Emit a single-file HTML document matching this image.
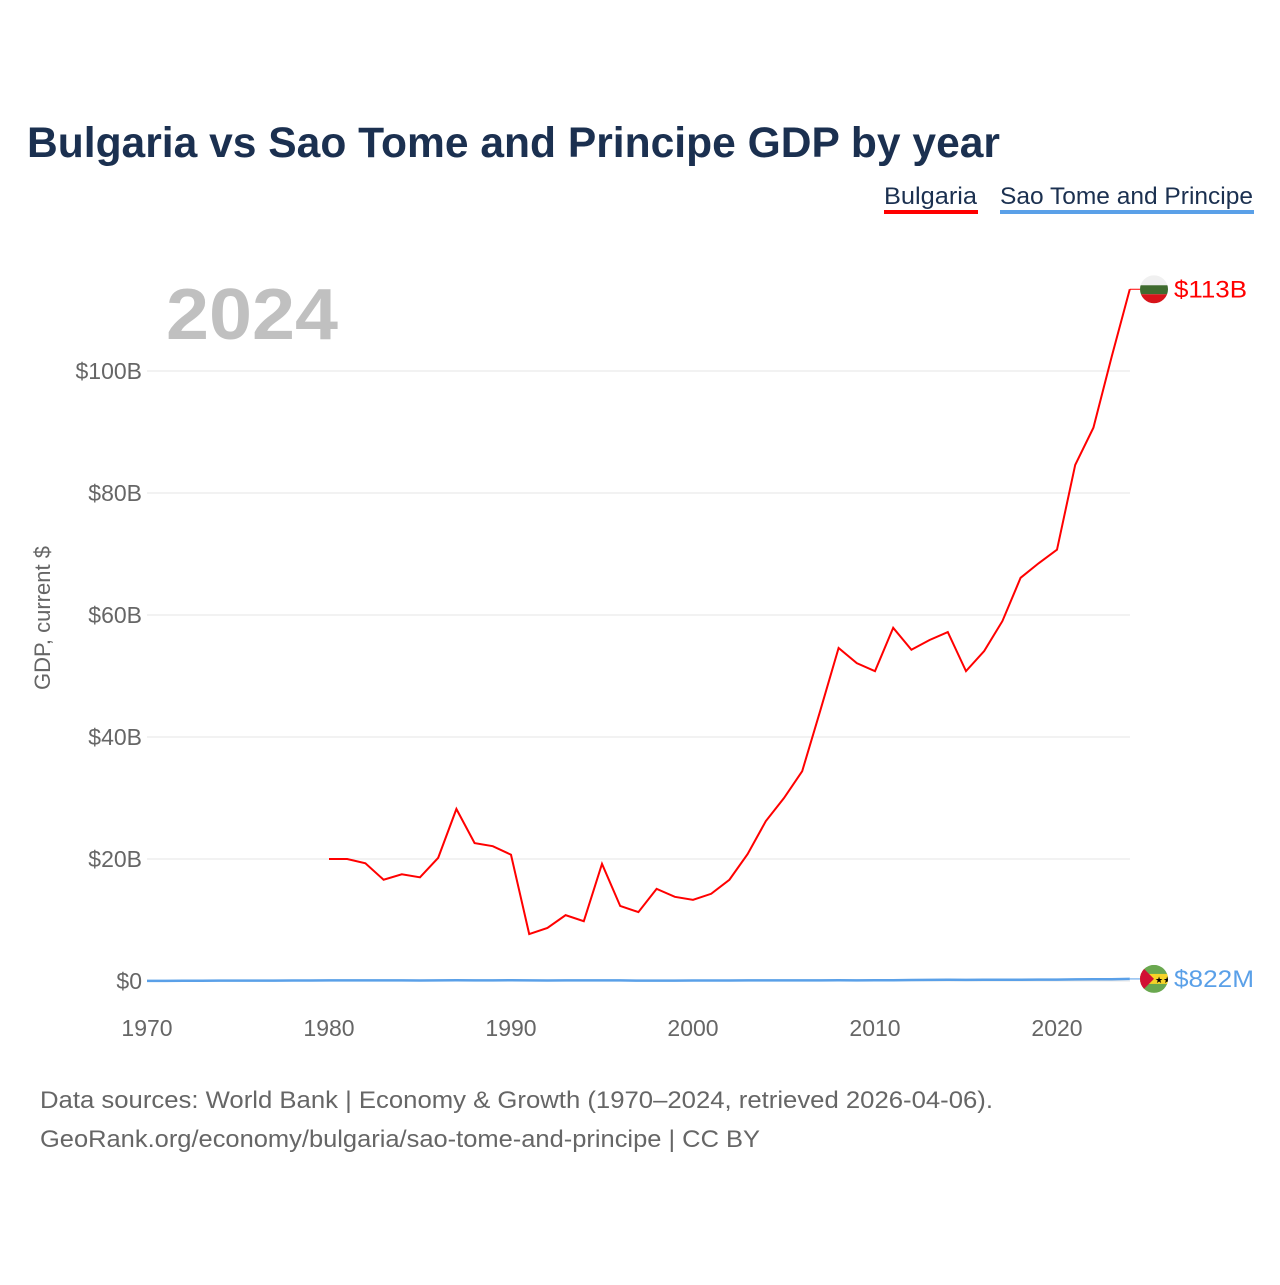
<!DOCTYPE html>
<html><head><meta charset="utf-8"><style>
body{margin:0;background:#fff;font-family:"Liberation Sans",sans-serif}
#wrap{position:relative;width:1280px;height:1280px}
</style></head><body>
<div id="wrap">
<svg id="chart" width="1280" height="1280"></svg>
</div>
<script>
const years=[];for(let y=1970;y<=2024;y++)years.push(y);
const bgYears=[1980,1981,1982,1983,1984,1985,1986,1987,1988,1989,1990,1991,1992,1993,1994,1995,1996,1997,1998,1999,2000,2001,2002,2003,2004,2005,2006,2007,2008,2009,2010,2011,2012,2013,2014,2015,2016,2017,2018,2019,2020,2021,2022,2023,2024];
const bgValues=[20.0,20.0,19.3,16.6,17.5,17.0,20.2,28.2,22.6,22.1,20.7,7.7,8.7,10.8,9.8,19.2,12.3,11.3,15.1,13.8,13.3,14.3,16.6,20.8,26.2,30.0,34.4,44.4,54.6,52.1,50.8,57.9,54.3,55.9,57.2,50.8,54.1,59.0,66.1,68.5,70.7,84.6,90.7,102.3,113.4];
const stpValues=[0.03,0.03,0.04,0.05,0.06,0.07,0.06,0.07,0.08,0.09,0.1,0.11,0.1,0.1,0.1,0.09,0.1,0.12,0.11,0.1,0.12,0.1,0.09,0.1,0.11,0.1,0.1,0.06,0.07,0.07,0.08,0.08,0.09,0.1,0.1,0.1,0.1,0.11,0.12,0.11,0.12,0.13,0.16,0.19,0.2,0.19,0.2,0.2,0.21,0.23,0.23,0.27,0.29,0.29,0.34,0.31,0.35,0.38,0.41,0.43,0.47,0.53,0.55,0.60,0.822].slice(0,55);
const yTicks=[0,20,40,60,80,100];
const yTickLabels=["$0","$20B","$40B","$60B","$80B","$100B"];
const xTicks=[1970,1980,1990,2000,2010,2020];

const NS="http://www.w3.org/2000/svg";
const svg=document.getElementById('chart');
const X=y=>147+(y-1970)*18.2;
const Y=v=>981-v*6.1;
function el(t,a,txt){const e=document.createElementNS(NS,t);for(const k in a)e.setAttribute(k,a[k]);if(txt!=null)e.textContent=txt;svg.appendChild(e);return e;}

let e;
e=el('text',{x:27,y:157,'font-size':43,'font-weight':'bold',fill:'#1b3050',textLength:973,lengthAdjust:'spacingAndGlyphs'},'Bulgaria vs Sao Tome and Principe GDP by year');

e=el('text',{x:884,y:204,'font-size':24,fill:'#1b3050',textLength:93,lengthAdjust:'spacingAndGlyphs'},'Bulgaria');

el('rect',{x:884,y:210,width:94,height:4,fill:'#ff0000'});
e=el('text',{x:1000,y:204,'font-size':24,fill:'#1b3050',textLength:253,lengthAdjust:'spacingAndGlyphs'},'Sao Tome and Principe');

el('rect',{x:1000,y:210,width:254,height:4,fill:'#5aa0e8'});
e=el('text',{x:166,y:339,'font-size':72,'font-weight':'bold',fill:'#c0c0c0',textLength:172,lengthAdjust:'spacingAndGlyphs'},'2024');


yTicks.forEach((t,i)=>{
 e=el('line',{x1:147,x2:1130,y1:Y(t),y2:Y(t),stroke:'#e6e6e6','stroke-width':1});
 
 e=el('text',{x:142,y:Y(t)+8,'font-size':23,fill:'#666','text-anchor':'end'},yTickLabels[i]);
 
});
xTicks.forEach(t=>{
 e=el('text',{x:X(t),y:1036,'font-size':23,fill:'#666','text-anchor':'middle'},String(t));
 
});
e=el('text',{x:50,y:618,'font-size':22,fill:'#666','text-anchor':'middle',transform:'rotate(-90 50 618)'},'GDP, current $');


let d=stpValues.map((v,i)=>(i?'L':'M')+X(years[i])+','+Y(v)).join('');
e=el('path',{d,fill:'none',stroke:'#5aa0e8','stroke-width':2.5});

d=bgValues.map((v,i)=>(i?'L':'M')+X(bgYears[i])+','+Y(v)).join('');
e=el('path',{d,fill:'none',stroke:'#ff0000','stroke-width':2});


const by=Y(bgValues[bgValues.length-1]), sy=Y(stpValues[stpValues.length-1]);
el('line',{x1:X(2024),x2:1140,y1:by,y2:by,stroke:'#ff0000','stroke-width':1});
el('line',{x1:X(2024),x2:1140,y1:sy,y2:sy,stroke:'#5aa0e8','stroke-width':1});
const defs=el('defs',{});
defs.innerHTML='<clipPath id="c1"><circle cx="1154" cy="'+by+'" r="14"/></clipPath><clipPath id="c2"><circle cx="1154" cy="'+sy+'" r="14"/></clipPath>';
e=el('g',{'clip-path':'url(#c1)'});

e.innerHTML=`<rect x="1140" y="${by-14}" width="28" height="10" fill="#f0f0f0"/><rect x="1140" y="${by-4}" width="28" height="9" fill="#3f6b2f"/><rect x="1140" y="${by+5}" width="28" height="10" fill="#d7141a"/>`;
svg.appendChild(e);
e=el('g',{'clip-path':'url(#c2)'});

e.innerHTML=`<rect x="1140" y="${sy-14}" width="28" height="28" fill="#6aa84f"/><rect x="1140" y="${sy-5}" width="28" height="10" fill="#f5d327"/><polygon points="1140,${sy-14} 1154,${sy} 1140,${sy+14}" fill="#d21034"/><text x="1155" y="${sy+4}" font-size="9" fill="#000">★★</text>`;
svg.appendChild(e);
e=el('text',{x:1174,y:by+8,'font-size':24,fill:'#ff0000',textLength:73,lengthAdjust:'spacingAndGlyphs'},'$113B');

e=el('text',{x:1174,y:sy+8,'font-size':24,fill:'#5aa0e8',textLength:80,lengthAdjust:'spacingAndGlyphs'},'$822M');


e=el('text',{x:40,y:1108,'font-size':24,fill:'#666',textLength:953,lengthAdjust:'spacingAndGlyphs'},'Data sources: World Bank | Economy & Growth (1970–2024, retrieved 2026-04-06).');

e=el('text',{x:40,y:1147,'font-size':24,fill:'#666',textLength:720,lengthAdjust:'spacingAndGlyphs'},'GeoRank.org/economy/bulgaria/sao-tome-and-principe | CC BY');

</script>
</body></html>
